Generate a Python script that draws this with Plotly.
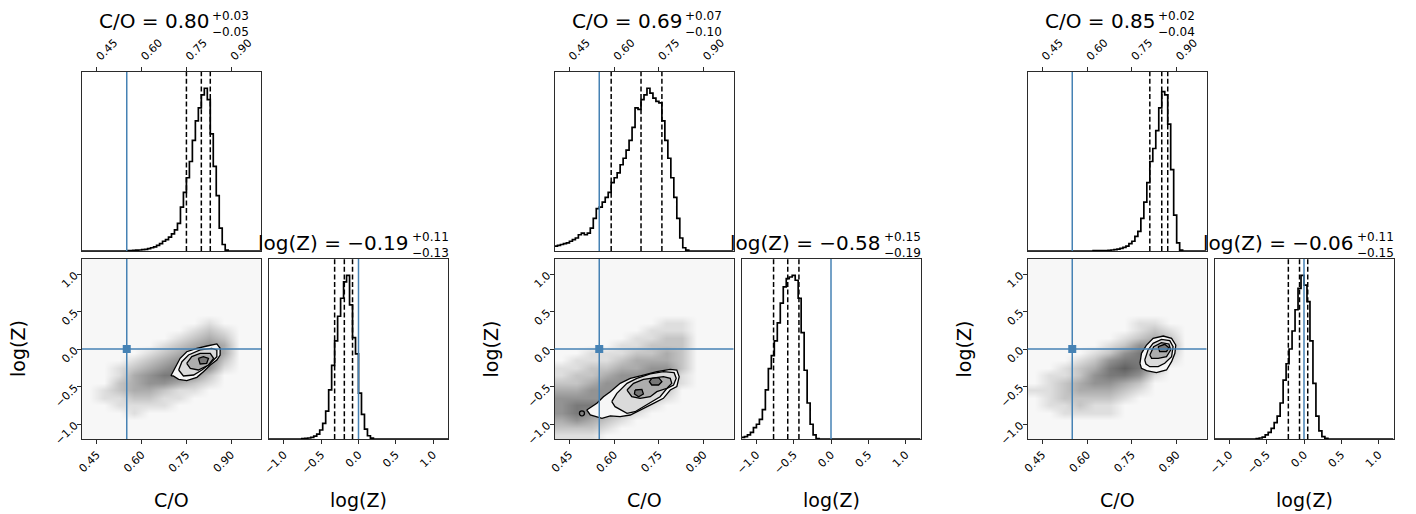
import plotly.graph_objects as go

# The page body keeps its default 8px margin, so the figure starts 8px in;
# the figure is drawn 8px smaller and all reference pixel positions are shifted.
W_REF, H_REF = 1416, 514
OFF = 8
W, H = W_REF - OFF, H_REF - OFF
FONT = "DejaVu Sans"
BLUE = "#4682b4"

# ---------------- data ----------------
CO_BIN_START, CO_BIN_WIDTH = 0.40, 0.01      # 60 bins over 0.40 .. 1.00
LZ_BIN_START, LZ_BIN_WIDTH = -1.20, 0.04     # 60 bins over -1.2 .. 1.2

co_hist_1 = [0]*15 + [0.2, 0.3, 0.4, 0.5, 0.6, 0.8, 1, 1.5, 2, 2.5, 3.5, 4.5, 6, 7, 8.5, 10.5, 13, 17,
                      27, 36, 45, 55, 68, 80, 88, 96, 100, 93, 72, 52, 34, 14, 4, 0.5] + [0]*11
co_hist_2 = [3, 3.5, 4, 4.5, 5, 6, 7, 8, 10, 11, 10, 11, 14, 20, 26, 27, 30, 33, 36, 42, 45, 48, 53, 57,
             62, 68, 76, 88, 87, 93, 96, 100, 97, 94, 92, 91, 80, 68, 57, 45, 33, 20, 8, 2, 0.5] + [0]*15
co_hist_3 = [0]*22 + [0.2, 0.2, 0.2, 0.2, 0.3, 0.4, 0.6, 0.8, 1.2, 1.6, 2.2, 3, 4.5, 6, 9, 12, 20, 30,
                      42, 55, 63, 74, 88, 98, 96, 78, 50, 22, 5, 0.5] + [0]*8

lz_hist_1 = [0]*11 + [0.2, 0.4, 0.6, 1, 1.8, 3, 5.5, 9.5, 17, 30, 45, 60, 75, 86, 96, 100, 82, 62, 52,
                      28, 15, 6, 2, 0.5] + [0]*25
lz_hist_2 = [1, 1.5, 2.5, 4, 7, 9, 12, 18, 30, 43, 51, 60, 71, 83, 93, 98, 99, 100, 97, 86, 65, 42, 22,
             9, 2.5, 0.3] + [0]*34
lz_hist_3 = [0]*14 + [0.3, 0.6, 1.2, 2.5, 4, 6.5, 10, 14, 22, 36, 46, 55, 66, 79, 92, 100, 94, 84, 60,
                      34, 14, 5, 1.5, 0.4] + [0]*22

# summary statistics (median, +err, -err)
co_median = [0.80, 0.69, 0.85]
co_plus = [0.03, 0.07, 0.02]
co_minus = [0.05, 0.10, 0.04]
lz_median = [-0.19, -0.58, -0.06]
lz_plus = [0.11, 0.15, 0.11]
lz_minus = [0.13, 0.19, 0.15]
truth_co = 0.55
truth_lz = 0.0

# sample-cloud density (rows: log(Z) from 1.15 down to -1.15 step 0.1; cols: C/O 0.425..0.975 step 0.05)
dens_1 = ["111111111111", "111111111111", "111111111111", "111111111111", "111111111111",
          "111111111111", "111111111111", "111111111111", "111111112111", "111111123211",
          "111111234311", "111112345411", "111123456411", "111234566311", "112345665211",
          "112456653111", "113455432111", "123443221111", "122332211111", "112222111111",
          "111211111111", "111111111111", "111111111111", "111111111111"]
dens_2 = ["111111111111", "111111111111", "111111111111", "111111111111", "111111111111",
          "111111111111", "111111111111", "111111111111", "111111122111", "111111222111",
          "111112233111", "111122333111", "112223343111", "122234443111", "223344553111",
          "233455542111", "334555532111", "445555431111", "555554321111", "566543211111",
          "565432111111", "454321111111", "333211111111", "222111111111"]
dens_3 = ["111111111111", "111111111111", "111111111111", "111111111111", "111111111111",
          "111111111111", "111111111111", "111111111111", "111111122111", "111111123211",
          "111111234311", "111112355411", "111123565311", "111235665211", "112346764111",
          "122356652111", "123455431111", "223444321111", "123333211111", "122322111111",
          "112222111111", "111111111111", "111111111111", "111111111111"]

# credible-region contours (C/O, log(Z)) from outermost to innermost
cont_1 = [
    ([0.698, 0.718, 0.729, 0.751, 0.785, 0.819, 0.852, 0.863, 0.863, 0.852, 0.830, 0.807, 0.785, 0.751, 0.724, 0.706],
     [-0.356, -0.213, -0.124, -0.036, 0.009, 0.040, 0.067, 0.009, -0.080, -0.147, -0.213, -0.302, -0.378, -0.422, -0.404, -0.360]),
    ([0.724, 0.735, 0.757, 0.796, 0.835, 0.852, 0.852, 0.830, 0.802, 0.774, 0.740],
     [-0.280, -0.169, -0.080, -0.013, 0.009, -0.013, -0.102, -0.191, -0.280, -0.347, -0.360]),
    ([0.751, 0.768, 0.796, 0.830, 0.841, 0.824, 0.790, 0.763],
     [-0.191, -0.102, -0.058, -0.058, -0.124, -0.213, -0.280, -0.258]),
    ([0.790, 0.807, 0.824, 0.818, 0.796],
     [-0.124, -0.102, -0.124, -0.191, -0.200]),
]
cont_2 = [
    ([0.508, 0.542, 0.564, 0.587, 0.620, 0.654, 0.698, 0.743, 0.788, 0.810, 0.818, 0.810, 0.788, 0.765, 0.732, 0.698, 0.654, 0.620, 0.587, 0.559, 0.536, 0.520],
     [-0.813, -0.724, -0.636, -0.569, -0.458, -0.391, -0.347, -0.302, -0.271, -0.280, -0.369, -0.502, -0.547, -0.658, -0.724, -0.791, -0.880, -0.902, -0.893, -0.924, -0.902, -0.880]),
    ([0.592, 0.609, 0.643, 0.676, 0.721, 0.765, 0.801, 0.808, 0.799, 0.777, 0.754, 0.726, 0.698, 0.670, 0.643, 0.620, 0.603],
     [-0.702, -0.591, -0.458, -0.391, -0.333, -0.302, -0.316, -0.391, -0.480, -0.524, -0.636, -0.702, -0.769, -0.836, -0.858, -0.813, -0.769]),
    ([0.643, 0.665, 0.698, 0.732, 0.765, 0.788, 0.793, 0.777, 0.743, 0.721, 0.687, 0.659],
     [-0.547, -0.458, -0.404, -0.391, -0.369, -0.391, -0.458, -0.524, -0.569, -0.636, -0.658, -0.636]),
    ([0.726, 0.749, 0.760, 0.749, 0.726, 0.718],
     [-0.391, -0.382, -0.436, -0.480, -0.480, -0.436]),
    ([0.670, 0.693, 0.698, 0.682, 0.668],
     [-0.547, -0.538, -0.600, -0.636, -0.600]),
]
cont_2_islands = ([0.492], [-0.858])
cont_3 = [
    ([0.777, 0.782, 0.799, 0.821, 0.855, 0.883, 0.897, 0.894, 0.883, 0.866, 0.832, 0.799, 0.782],
     [-0.191, -0.058, 0.053, 0.142, 0.173, 0.142, 0.053, -0.058, -0.169, -0.280, -0.316, -0.289, -0.258]),
    ([0.793, 0.804, 0.821, 0.849, 0.877, 0.888, 0.883, 0.860, 0.838, 0.810, 0.797],
     [-0.147, -0.013, 0.076, 0.129, 0.111, 0.031, -0.102, -0.191, -0.236, -0.236, -0.200]),
    ([0.810, 0.823, 0.849, 0.874, 0.880, 0.866, 0.838, 0.816],
     [-0.080, 0.031, 0.084, 0.067, -0.013, -0.102, -0.124, -0.124]),
    ([0.838, 0.860, 0.874, 0.866, 0.843],
     [0.031, 0.062, 0.018, -0.036, -0.036]),
]
cont_levels_fill = ["#f6f6f6", "#dadada", "#adadad", "#777777", "#777777"]

co_ticks = [0.45, 0.60, 0.75, 0.90]
co_ticktext = ["0.45", "0.60", "0.75", "0.90"]
lz_ticks = [-1.0, -0.5, 0.0, 0.5, 1.0]
lz_ticktext = ["\u22121.0", "\u22120.5", "0.0", "0.5", "1.0"]

co_hists = [co_hist_1, co_hist_2, co_hist_3]
lz_hists = [lz_hist_1, lz_hist_2, lz_hist_3]
dens = [dens_1, dens_2, dens_3]
conts = [cont_1, cont_2, cont_3]

# ---------------- layout geometry (reference pixels) ----------------
PX0 = [82, 554.5, 1027.5]
PW = 179
RIGHT_OFF = 187
TOP_Y = (72, 251)
BOT_Y = (259, 439)


def px(a):
    return (a - OFF) / W


def py(b):
    return 1 - (b - OFF) / H


def xd(a, b):
    return [px(a), px(b)]


def yd(a, b):
    return [py(b), py(a)]


def fmt(v):
    s = f"{abs(v):.2f}"
    return ("\u2212" if v < 0 else "") + s


fig = go.Figure()
layout = dict(
    width=W, height=H, margin=dict(l=0, r=0, t=0, b=0, pad=0, autoexpand=False),
    paper_bgcolor="white", plot_bgcolor="white", showlegend=False,
    font=dict(family=FONT, color="black"),
)
shapes = []
annotations = []

axcommon = dict(showline=True, linecolor="#2b2b2b", linewidth=1, mirror=True, showgrid=False,
                zeroline=False, ticks="outside", ticklen=4, tickwidth=1, tickcolor="#2b2b2b",
                automargin=False,
                tickfont=dict(family=FONT, size=11, color="black"))

co_edges = [round(CO_BIN_START + CO_BIN_WIDTH * i, 4) for i in range(61)]
lz_edges = [round(LZ_BIN_START + LZ_BIN_WIDTH * i, 4) for i in range(61)]
dens_x = [round(0.425 + 0.05 * j, 4) for j in range(12)]
dens_y = [round(1.15 - 0.1 * i, 4) for i in range(24)]

gray_scale = [[0, "#ffffff"], [1 / 9, "#f7f7f7"], [1, "#2e2e2e"]]

for p in range(3):
    n_top, n_sc, n_rt = 3 * p + 1, 3 * p + 2, 3 * p + 3

    def nm(n):
        return "" if n == 1 else str(n)
    x0 = PX0[p]
    xr0 = x0 + RIGHT_OFF

    # axes
    layout["xaxis" + nm(n_top)] = dict(axcommon, domain=xd(x0, x0 + PW), range=[0.4, 1.0], side="top",
                                       anchor="y" + nm(n_top), tickvals=co_ticks, ticktext=co_ticktext,
                                       tickangle=-45)
    layout["yaxis" + nm(n_top)] = dict(axcommon, domain=yd(*TOP_Y), range=[0, 110], anchor="x" + nm(n_top),
                                       ticks="", showticklabels=False)
    layout["xaxis" + nm(n_sc)] = dict(axcommon, domain=xd(x0, x0 + PW), range=[0.4, 1.0],
                                      anchor="y" + nm(n_sc), tickvals=co_ticks, ticktext=co_ticktext,
                                      tickangle=-45)
    layout["yaxis" + nm(n_sc)] = dict(axcommon, domain=yd(*BOT_Y), range=[-1.2, 1.2], anchor="x" + nm(n_sc),
                                      tickvals=lz_ticks, ticktext=lz_ticktext, tickangle=-45)
    layout["xaxis" + nm(n_rt)] = dict(axcommon, domain=xd(xr0, xr0 + PW), range=[-1.2, 1.2],
                                      anchor="y" + nm(n_rt), tickvals=lz_ticks, ticktext=lz_ticktext,
                                      tickangle=-45)
    layout["yaxis" + nm(n_rt)] = dict(axcommon, domain=yd(*BOT_Y), range=[0, 110], anchor="x" + nm(n_rt),
                                      ticks="", showticklabels=False)

    # top histogram (C/O)
    ch = co_hists[p]
    fig.add_trace(go.Scatter(x=co_edges, y=ch + [ch[-1]], mode="lines", line_shape="hv",
                             line=dict(color="black", width=1.7), hoverinfo="skip",
                             xaxis="x" + nm(n_top), yaxis="y" + nm(n_top)))
    # right histogram (log Z)
    lh = lz_hists[p]
    fig.add_trace(go.Scatter(x=lz_edges, y=lh + [lh[-1]], mode="lines", line_shape="hv",
                             line=dict(color="black", width=1.7), hoverinfo="skip",
                             xaxis="x" + nm(n_rt), yaxis="y" + nm(n_rt)))

    # density cloud
    z = [[int(c) for c in row] for row in dens[p]]
    fig.add_trace(go.Heatmap(x=dens_x, y=dens_y, z=z, zmin=0, zmax=9, colorscale=gray_scale,
                             zsmooth="best", showscale=False, hoverinfo="skip",
                             xaxis="x" + nm(n_sc), yaxis="y" + nm(n_sc)))
    # contours
    for k, (cx, cy) in enumerate(conts[p]):
        fig.add_trace(go.Scatter(x=cx + [cx[0]], y=cy + [cy[0]], mode="lines", fill="toself",
                                 fillcolor=cont_levels_fill[k], line=dict(color="black", width=1.3),
                                 hoverinfo="skip", xaxis="x" + nm(n_sc), yaxis="y" + nm(n_sc)))
    if p == 1:
        fig.add_trace(go.Scatter(x=cont_2_islands[0], y=cont_2_islands[1], mode="markers",
                                 marker=dict(symbol="circle-open", size=5, color="black",
                                             line=dict(width=1.3, color="black")),
                                 hoverinfo="skip", xaxis="x" + nm(n_sc), yaxis="y" + nm(n_sc)))
    # truth marker
    fig.add_trace(go.Scatter(x=[truth_co], y=[truth_lz], mode="markers",
                             marker=dict(symbol="square", size=8, color=BLUE), hoverinfo="skip",
                             xaxis="x" + nm(n_sc), yaxis="y" + nm(n_sc)))

    # quantile lines
    coq = [co_median[p] - co_minus[p], co_median[p], co_median[p] + co_plus[p]]
    lzq = [lz_median[p] - lz_minus[p], lz_median[p], lz_median[p] + lz_plus[p]]
    for q in coq:
        shapes.append(dict(type="line", xref="x" + nm(n_top), yref="y" + nm(n_top) + " domain",
                           x0=q, x1=q, y0=0, y1=1, line=dict(color="black", width=1.5, dash="5px,2.6px"),
                           layer="above"))
    for q in lzq:
        shapes.append(dict(type="line", xref="x" + nm(n_rt), yref="y" + nm(n_rt) + " domain",
                           x0=q, x1=q, y0=0, y1=1, line=dict(color="black", width=1.5, dash="5px,2.6px"),
                           layer="above"))
    # truth lines
    bl = dict(color=BLUE, width=1.5)
    shapes.append(dict(type="line", xref="x" + nm(n_top), yref="y" + nm(n_top) + " domain",
                       x0=truth_co, x1=truth_co, y0=0, y1=1, line=bl, layer="above"))
    shapes.append(dict(type="line", xref="x" + nm(n_sc), yref="y" + nm(n_sc) + " domain",
                       x0=truth_co, x1=truth_co, y0=0, y1=1, line=bl, layer="above"))
    shapes.append(dict(type="line", xref="x" + nm(n_sc) + " domain", yref="y" + nm(n_sc),
                       x0=0, x1=1, y0=truth_lz, y1=truth_lz, line=bl, layer="above"))
    shapes.append(dict(type="line", xref="x" + nm(n_rt), yref="y" + nm(n_rt) + " domain",
                       x0=truth_lz, x1=truth_lz, y0=0, y1=1, line=bl, layer="above"))

    # titles: main text + stacked superscript/subscript errors
    def add_title(main, plus, minus, right_px, cy_px):
        annotations.append(dict(text=main, x=px(right_px), y=py(cy_px), xref="paper", yref="paper",
                                xanchor="right", yanchor="middle", showarrow=False, borderpad=0,
                                font=dict(family=FONT, size=20, color="black")))
        annotations.append(dict(text="+" + f"{plus:.2f}" + "<br>" + "\u2212" + f"{minus:.2f}",
                                x=px(right_px + 1), y=py(cy_px + 2.2),
                                xref="paper", yref="paper", xanchor="left", yanchor="middle", align="left",
                                showarrow=False, borderpad=0,
                                font=dict(family=FONT, size=12, color="black")))

    ctop = x0 + PW / 2
    crt = xr0 + PW / 2
    add_title("C/O = " + fmt(co_median[p]), co_plus[p], co_minus[p], ctop + 38.5, 21.3)
    add_title("log(Z) = " + fmt(lz_median[p]), lz_plus[p], lz_minus[p], crt + 51, 243)

    # axis labels
    annotations.append(dict(text="C/O", x=px(ctop), y=py(499.5), xref="paper", yref="paper",
                            xanchor="center", yanchor="middle", showarrow=False, borderpad=0,
                            font=dict(family=FONT, size=19, color="black")))
    annotations.append(dict(text="log(Z)", x=px(crt), y=py(499.5), xref="paper", yref="paper",
                            xanchor="center", yanchor="middle", showarrow=False, borderpad=0,
                            font=dict(family=FONT, size=19, color="black")))
    annotations.append(dict(text="log(Z)", x=px(x0 - 64), y=py(349), xref="paper", yref="paper",
                            xanchor="center", yanchor="middle", showarrow=False, textangle=-90,
                            font=dict(family=FONT, size=19, color="black")))

layout["shapes"] = shapes
layout["annotations"] = annotations
fig.update_layout(**layout)
fig.write_html("out.html")
